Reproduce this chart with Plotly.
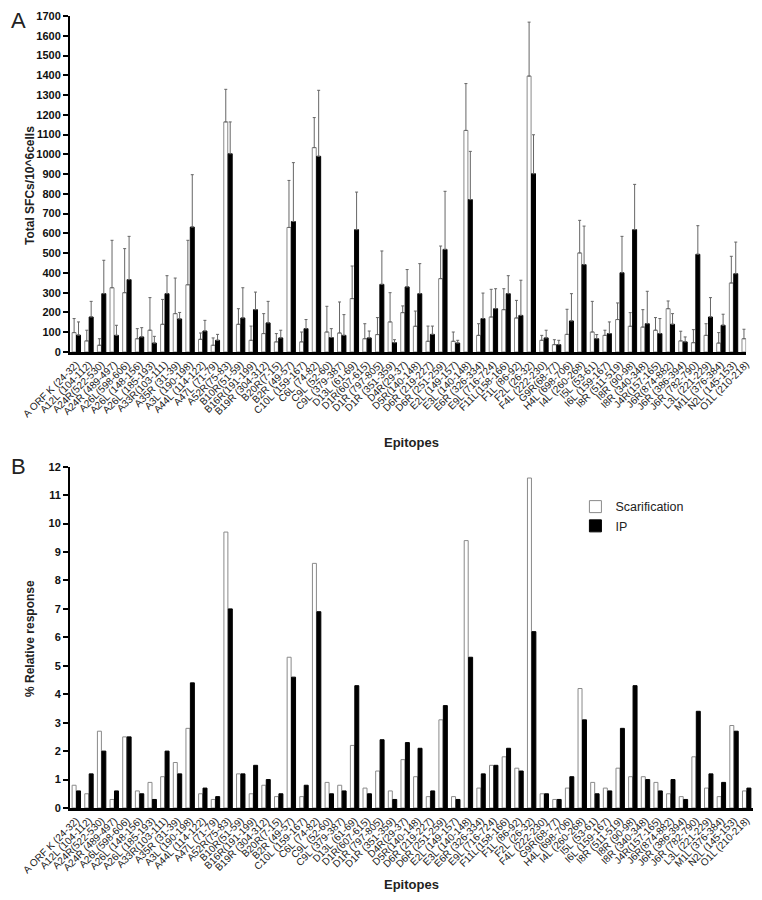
import plotly.graph_objects as go

epitopes = ["A ORF K (24-32)", "A12L (104-112)", "A24R(522-530)", "A24R (489-497)", "A26L(598-606)",
            "A26L (148-156)", "A26L (185-193)", "A33R(103-111)", "A35R (31-39)", "A3L (190-198)",
            "A44L (114-122)", "A47L (71-79)", "A52R(75-83)", "B10R(51-59)", "B16R(191-199)",
            "B19R (304-312)", "B20R(7-15)", "B2R (49-57)", "C10L (159-167)", "C6L (74-82)",
            "C9L (52-60)", "C9L (379-387)", "D13L (61-69)", "D1R(607-615)", "D1R (797-805)",
            "D1R (351-359)", "D4R(29-37)", "D5R(140-148)", "D6R (219-227)", "D6R (251-259)",
            "E2L (149-157)", "E3L (140-148)", "E6R (326-334)", "E9L (716-724)", "F11L(158-166)",
            "F1L (86-92)", "F2L (26-32)", "F4L (222-230)", "G9R(68-77)", "H4L (698-706)",
            "I4L (260-268)", "I5L (53-61)", "I6L (159-167)", "I8R (511-519)", "I8R (90-98)",
            "I8R (340-348)", "J4R(157-165)", "J6R(874-882)", "J6R (386-394)", "J6R (782-790)",
            "L3L (221-229)", "M1L (376-384)", "N2L (145-153)", "O1L (210-218)"]

# Panel A: Total SFCs / 10^6 cells (mean and upper error limit)
scar_sfc = [98, 56, 34, 325, 300, 67, 110, 140, 194, 340, 64, 34, 1164, 140, 59, 93, 51, 630, 51, 1034,
            101, 96, 270, 67, 88, 152, 199, 130, 54, 371, 54, 1121, 84, 177, 214, 172, 1396, 59, 37, 89,
            501, 101, 84, 164, 130, 126, 110, 219, 56, 47, 84, 45, 349, 67]
scar_sfc_top = [169, 110, 67, 565, 523, 118, 275, 266, 374, 565, 96, 71, 1329, 219, 131, 194, 93, 868, 101, 1186,
                231, 253, 435, 143, 174, 300, 233, 207, 131, 536, 101, 1358, 143, 317, 320, 261, 1669, 84, 62, 216,
                666, 256, 110, 248, 199, 214, 174, 258, 105, 113, 143, 98, 484, 115]
ip_sfc = [85, 177, 295, 84, 366, 76, 45, 295, 167, 632, 106, 59, 1003, 172, 214, 147, 71, 660, 118, 990,
          73, 84, 619, 71, 342, 47, 329, 295, 89, 519, 45, 771, 169, 219, 295, 185, 902, 71, 37, 157,
          442, 67, 93, 401, 619, 143, 93, 140, 51, 494, 177, 135, 396, None]
ip_sfc_top = [152, 256, 464, 135, 585, 123, 79, 386, 200, 897, 160, 89, 1164, 325, 303, 256, 110, 958, 164, 1324,
              118, 189, 809, 106, 511, 62, 417, 447, 131, 813, 59, 1015, 298, 320, 386, 363, 1099, 110, 59, 295,
              637, 88, 152, 585, 848, 307, 169, 194, 76, 639, 275, 191, 556, None]

# Panel B: % relative response
scar_rel = [0.8, 0.5, 2.7, 0.3, 2.5, 0.6, 0.9, 1.1, 1.6, 2.8, 0.5, 0.3, 9.7, 1.2, 0.5, 0.8, 0.4, 5.3, 0.4, 8.6,
            0.9, 0.8, 2.2, 0.7, 1.3, 0.6, 1.7, 1.1, 0.4, 3.1, 0.4, 9.4, 0.7, 1.5, 1.8, 1.4, 11.6, 0.5, 0.3, 0.7,
            4.2, 0.9, 0.7, 1.4, 1.1, 1.1, 0.9, 0.5, 0.4, 1.8, 0.7, 0.4, 2.9, 0.6]
ip_rel = [0.6, 1.2, 2.0, 0.6, 2.5, 0.5, 0.3, 2.0, 1.2, 4.4, 0.7, 0.4, 7.0, 1.2, 1.5, 1.0, 0.5, 4.6, 0.8, 6.9,
          0.5, 0.6, 4.3, 0.5, 2.4, 0.3, 2.3, 2.1, 0.6, 3.6, 0.3, 5.3, 1.2, 1.5, 2.1, 1.3, 6.2, 0.5, 0.3, 1.1,
          3.1, 0.5, 0.6, 2.8, 4.3, 1.0, 0.6, 1.0, 0.3, 3.4, 1.2, 0.9, 2.7, 0.7]


def err(top, val):
    return [None if (t is None or v is None) else t - v for t, v in zip(top, val)]


FONT = "Liberation Sans, Arial, sans-serif"
OPEN_LINE = "#8a8a8a"
ERR_COL = "#666666"

fig = go.Figure()

fig.add_trace(go.Bar(
    x=epitopes, y=scar_sfc, name="Scarification", showlegend=False,
    marker=dict(color="white", line=dict(color=OPEN_LINE, width=1)),
    error_y=dict(type="data", array=err(scar_sfc_top, scar_sfc), arrayminus=[0] * len(scar_sfc),
                 symmetric=False, color=ERR_COL, thickness=1, width=1.5),
    xaxis="x", yaxis="y"))
fig.add_trace(go.Bar(
    x=epitopes, y=ip_sfc, name="IP", showlegend=False,
    marker=dict(color="black", line=dict(color="black", width=1)),
    error_y=dict(type="data", array=err(ip_sfc_top, ip_sfc), arrayminus=[0] * len(ip_sfc),
                 symmetric=False, color=ERR_COL, thickness=1, width=1.5),
    xaxis="x", yaxis="y"))

fig.add_trace(go.Bar(
    x=epitopes, y=scar_rel, name="Scarification",
    marker=dict(color="white", line=dict(color=OPEN_LINE, width=1)),
    xaxis="x2", yaxis="y2"))
fig.add_trace(go.Bar(
    x=epitopes, y=ip_rel, name="IP",
    marker=dict(color="black", line=dict(color="black", width=1)),
    xaxis="x2", yaxis="y2"))

tickfont_x = dict(family=FONT, size=10, color="#1a1a1a")
tickfont_y = dict(family=FONT, size=11, color="#111", weight="bold")

axis_common_x = dict(type="category", showline=True, linecolor="black", linewidth=2.5, automargin=False,
                     tickmode="linear", tick0=0, dtick=1,
                     ticks="", tickangle=-45, tickfont=tickfont_x, showgrid=False, zeroline=False)
axis_common_y = dict(showline=True, linecolor="black", linewidth=2, ticks="outside", ticklen=5,
                     automargin=False,
                     tickwidth=2, tickcolor="black", tickfont=tickfont_y, showgrid=False, zeroline=False)

fig.update_layout(
    width=762, height=900,
    margin=dict(l=62, r=17, t=8, b=100, autoexpand=False),
    paper_bgcolor="white", plot_bgcolor="white",
    barmode="group", bargap=0.3, bargroupgap=0.1,
    font=dict(family=FONT, color="#111"),
    xaxis=dict(domain=[0, 0.99], range=[-0.5, 53.0], anchor="y", **axis_common_x),
    yaxis=dict(domain=[0.5758, 1.0], range=[0, 1700], dtick=100, anchor="x", **axis_common_y),
    xaxis2=dict(domain=[0, 1], range=[-0.5, 53.5], anchor="y2", **axis_common_x),
    yaxis2=dict(domain=[0, 0.431], range=[0, 12], dtick=1, anchor="x2", **axis_common_y),
    legend=dict(x=0.740, y=0.399, xanchor="left", yanchor="top", bgcolor="rgba(0,0,0,0)",
                font=dict(family=FONT, size=12.5, color="#222"), tracegroupgap=0, itemwidth=30),
    annotations=[
        dict(text="A", x=-0.089, y=1.012, xref="paper", yref="paper", xanchor="left", yanchor="top",
             showarrow=False, font=dict(family=FONT, size=22, color="#222")),
        dict(text="B", x=-0.089, y=0.4306, xref="paper", yref="paper", xanchor="left", yanchor="middle",
             showarrow=False, font=dict(family=FONT, size=22, color="#222")),
        dict(text="<b>Total SFCs/10^6cells</b>", x=-0.0586, y=0.7866, xref="paper", yref="paper",
             xanchor="center", yanchor="middle",
             textangle=-90, showarrow=False, font=dict(family=FONT, size=12, color="#222")),
        dict(text="<b>% Relative response</b>", x=-0.0586, y=0.2146, xref="paper", yref="paper",
             xanchor="center", yanchor="middle",
             textangle=-90, showarrow=False, font=dict(family=FONT, size=12, color="#222")),
        dict(text="<b>Epitopes</b>", x=0.5007, y=0.4609, xref="paper", yref="paper",
             xanchor="center", yanchor="middle",
             showarrow=False, font=dict(family=FONT, size=13, color="#222")),
        dict(text="<b>Epitopes</b>", x=0.5007, y=-0.0972, xref="paper", yref="paper",
             xanchor="center", yanchor="middle",
             showarrow=False, font=dict(family=FONT, size=13, color="#222")),
    ],
)

fig.write_html("out.html")
